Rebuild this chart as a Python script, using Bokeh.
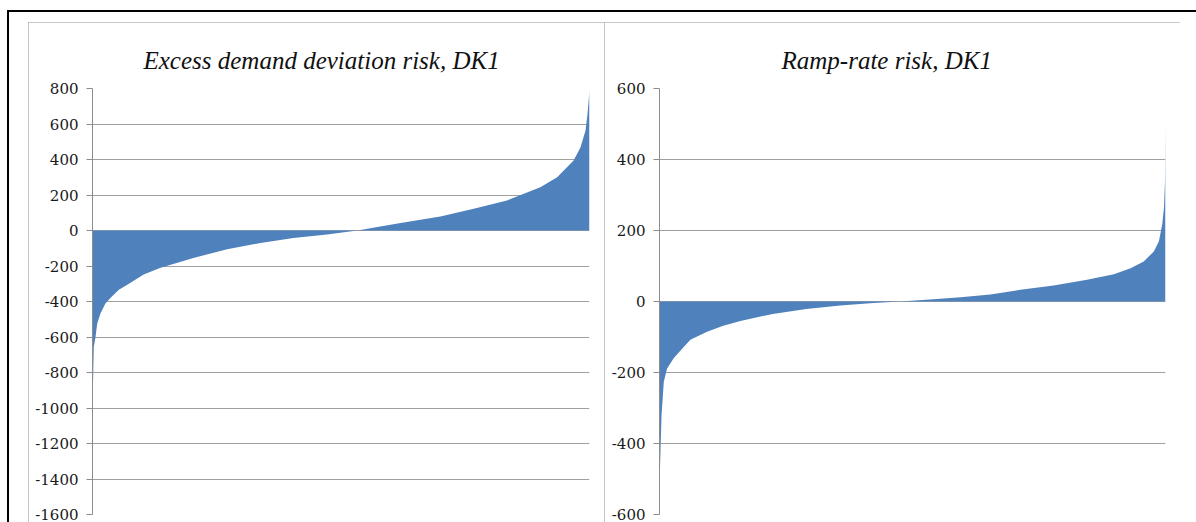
from bokeh.plotting import figure
from bokeh.models import Range1d, FixedTicker, Spacer
from bokeh.layouts import row, column
from bokeh.embed import file_html
from bokeh.resources import INLINE

# ---- data (sorted hourly risk values; x = percentile rank) ----
dk1_title = "Excess demand deviation risk, DK1"
dk1_pct = [0.0, 0.06, 0.26, 0.6, 0.95, 1.6, 2.6, 3.6, 5.3, 7.0, 10.3, 13.7, 20.3, 27.1,
           33.8, 40.4, 47.2, 53.3, 57.9, 62.0, 66.0, 70.0, 76.7, 83.4, 90.1, 93.5,
           96.8, 98.2, 99.2, 99.6, 100.0]
dk1_dev = [-1000, -918, -657, -601, -524, -468, -411, -380, -334, -305, -248, -210, -155, -105,
           -70, -42, -22, 0, 22, 42, 60, 79, 122, 169, 244, 300,
           394, 469, 563, 657, 789]
dk1_ticks = [-1600, -1400, -1200, -1000, -800, -600, -400, -200, 0, 200, 400, 600, 800]

ramp_title = "Ramp-rate risk, DK1"
ramp_pct = [0.0, 0.2, 0.4, 0.85, 1.5, 2.8, 4.2, 6.1, 9.4, 12.6, 16.0, 22.4, 29.0, 35.7,
            42.3, 47.6, 55.5, 59.5, 65.4, 71.3, 77.9, 84.5, 89.8, 93.1, 95.7, 97.7,
            98.7, 99.35, 99.7, 99.9, 100.0]
ramp_val = [-520, -420, -321, -226, -189, -160, -137, -108, -85, -68, -55, -35, -21, -11,
            -4, 0, 8, 12, 20, 33, 45, 61, 77, 94, 113, 141,
            170, 217, 264, 340, 500]
ramp_ticks = [-600, -400, -200, 0, 200, 400, 600]

FILL = "#4f81bd"
GRID = "#a0a0a0"
PANEL_W, PANEL_H = 576, 500


def make_panel(title, xs, ys, yr, ticks, left_border, title_offset):
    p = figure(width=PANEL_W, height=PANEL_H, x_range=Range1d(0, 100), y_range=Range1d(*yr),
               output_backend="svg", toolbar_location=None,
               min_border_left=left_border, min_border_right=15, min_border_top=66,
               min_border_bottom=8, outline_line_color=None,
               background_fill_color="white", border_fill_color="white",
               styles={"outline": "1px solid #b4b4b4", "outline-offset": "-1px"})
    p.varea(x=xs, y1=0, y2=ys, fill_color=FILL)
    p.xaxis.visible = False
    p.xgrid.visible = False
    p.ygrid.grid_line_color = GRID
    p.ygrid.grid_line_width = 1
    ax = p.yaxis[0]
    ax.ticker = FixedTicker(ticks=ticks)
    ax.major_label_overrides = {t: str(t) for t in ticks}
    ax.major_label_text_font = "DejaVu Serif"
    ax.major_label_text_font_size = "15px"
    ax.major_label_text_color = "#1a1a1a"
    ax.major_tick_out = 6
    ax.major_tick_in = 0
    ax.minor_tick_line_color = None
    ax.axis_line_color = "#8c8c8c"
    ax.major_tick_line_color = "#8c8c8c"
    ax.major_label_standoff = 8
    p.title.text = title
    p.title.align = "left"
    p.title.offset = title_offset
    p.title.vertical_align = "top"
    p.title.standoff = 26
    p.title.text_font = "Liberation Serif"
    p.title.text_font_style = "italic"
    p.title.text_font_size = "25px"
    p.title.text_color = "#111111"
    return p


f1 = make_panel(dk1_title, dk1_pct, dk1_dev, (-1600, 800), dk1_ticks, 64, 51)
f2 = make_panel(ramp_title, ramp_pct, ramp_val, (-600, 600), ramp_ticks, 55, 122)

layout = column(
    Spacer(height=10, width=1196),
    row(Spacer(width=7, height=2),
        Spacer(height=2, width=1189, styles={"background-color": "black"})),
    row(
        Spacer(width=7, height=510),
        Spacer(width=2, height=510, styles={"background-color": "black"}),
        Spacer(width=19, height=10),
        column(Spacer(height=10, width=10), row(f1, f2)),
    ),
)

open("out.html", "w").write(file_html(layout, INLINE))
